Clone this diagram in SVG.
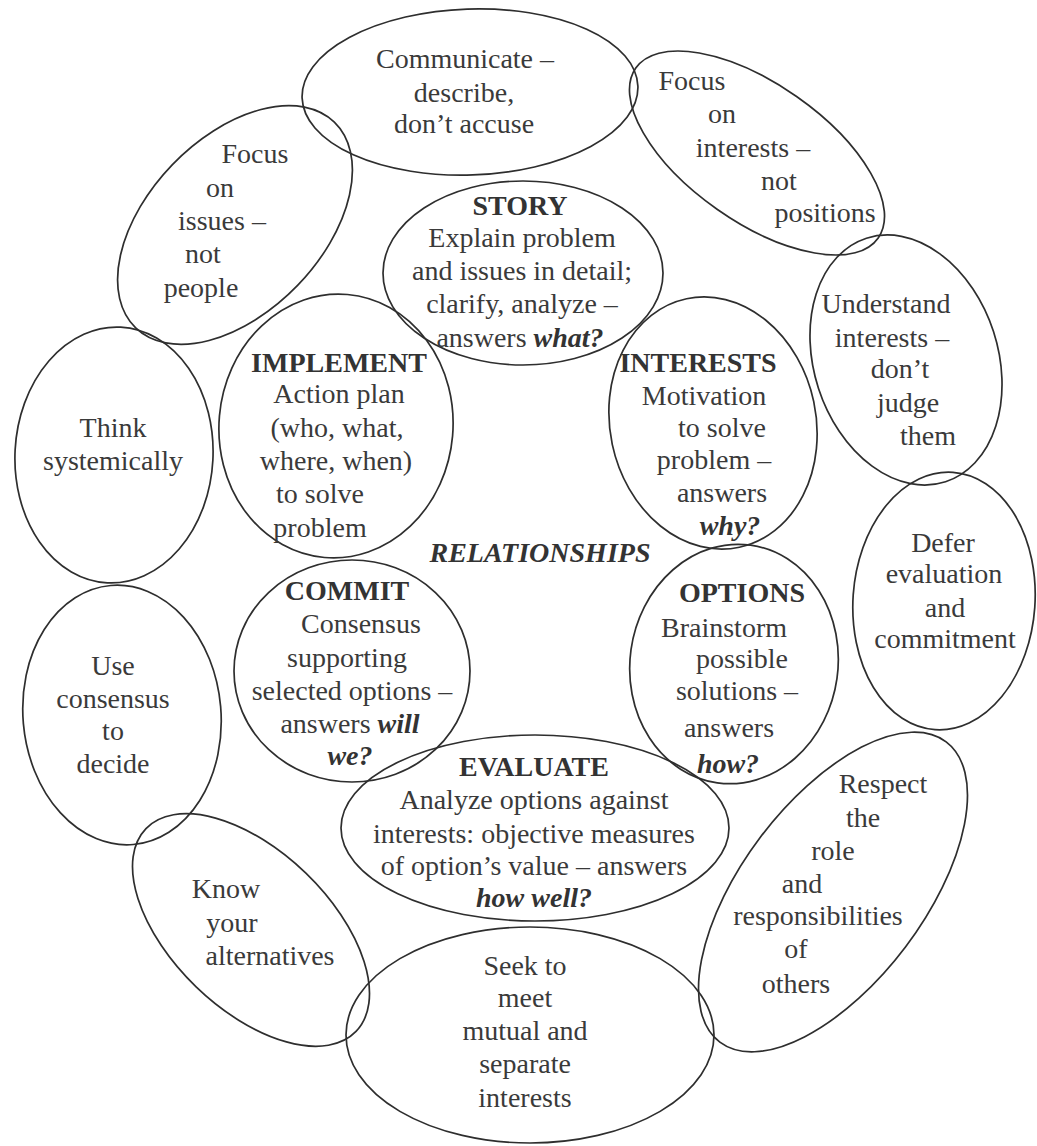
<svg xmlns="http://www.w3.org/2000/svg" width="1037" height="1146" viewBox="0 0 1037 1146">
<style>
  .bg { fill: #ffffff; }
  .sh { fill: none; stroke: #2e2e2e; stroke-width: 1.7; }
  text { font-family: "Liberation Serif", "Times New Roman", serif; font-size: 28px; fill: #3a3a3a; text-anchor: middle; }
  .b { font-weight: bold; fill: #333; }
  .bi { font-weight: bold; font-style: italic; fill: #333; }
</style>
<rect class="bg" x="0" y="0" width="1037" height="1146"/>
<g id="connectors"></g>

<g id="communicate">
  <ellipse class="sh" cx="470" cy="92" rx="168" ry="83" transform="rotate(-2 470 92)"/>
  <text x="465" y="68">Communicate –</text>
  <text x="464" y="102">describe,</text>
  <text x="464" y="133">don’t accuse</text>
</g>

<g id="focus-issues">
  <ellipse class="sh" cx="235" cy="225" rx="143" ry="87" transform="rotate(-46 235 225)"/>
  <text x="255" y="163">Focus</text>
  <text x="220" y="197">on</text>
  <text x="222" y="230">issues –</text>
  <text x="203" y="263">not</text>
  <text x="201" y="297">people</text>
</g>

<g id="focus-interests">
  <ellipse class="sh" cx="757" cy="153" rx="148" ry="69" transform="rotate(35 757 153)"/>
  <text x="692" y="90">Focus</text>
  <text x="722" y="123">on</text>
  <text x="753" y="157">interests –</text>
  <text x="779" y="190">not</text>
  <text x="825" y="222">positions</text>
</g>

<g id="story">
  <ellipse class="sh" cx="523" cy="273" rx="140" ry="92"/>
  <text class="b" x="520" y="215">STORY</text>
  <text x="522" y="247">Explain problem</text>
  <text x="522" y="280">and issues in detail;</text>
  <text x="522" y="313">clarify, analyze –</text>
  <text x="520" y="347">answers <tspan class="bi">what?</tspan></text>
</g>

<g id="understand">
  <ellipse class="sh" cx="906" cy="360" rx="92" ry="128" transform="rotate(-18 906 360)"/>
  <text x="886" y="313">Understand</text>
  <text x="892" y="347">interests –</text>
  <text x="900" y="378">don’t</text>
  <text x="908" y="412">judge</text>
  <text x="928" y="445">them</text>
</g>

<g id="implement">
  <ellipse class="sh" cx="336" cy="426" rx="117" ry="132" transform="rotate(5 336 426)"/>
  <text class="b" x="339" y="372">IMPLEMENT</text>
  <text x="339" y="403">Action plan</text>
  <text x="337" y="437">(who, what,</text>
  <text x="336" y="470">where, when)</text>
  <text x="320" y="503">to solve</text>
  <text x="320" y="537">problem</text>
</g>

<g id="interests">
  <ellipse class="sh" cx="713" cy="423" rx="103" ry="127" transform="rotate(-12 713 423)"/>
  <text class="b" x="698" y="372">INTERESTS</text>
  <text x="704" y="405">Motivation</text>
  <text x="722" y="437">to solve</text>
  <text x="714" y="469">problem –</text>
  <text x="722" y="502">answers</text>
  <text class="bi" x="730" y="535">why?</text>
</g>

<g id="think">
  <ellipse class="sh" cx="114" cy="455" rx="99" ry="128" transform="rotate(3 114 455)"/>
  <text x="113" y="437">Think</text>
  <text x="113" y="470">systemically</text>
</g>

<g id="relationships">
  <text class="bi" x="540" y="562">RELATIONSHIPS</text>
</g>

<g id="commit">
  <ellipse class="sh" cx="352" cy="671" rx="118" ry="111"/>
  <text class="b" x="347" y="600">COMMIT</text>
  <text x="361" y="633">Consensus</text>
  <text x="347" y="667">supporting</text>
  <text x="352" y="700">selected options –</text>
  <text x="350" y="733">answers <tspan class="bi">will</tspan></text>
  <text class="bi" x="350" y="765">we?</text>
</g>

<g id="options">
  <ellipse class="sh" cx="734" cy="664" rx="104" ry="120" transform="rotate(8 734 664)"/>
  <text class="b" x="742" y="602">OPTIONS</text>
  <text x="724" y="637">Brainstorm</text>
  <text x="742" y="668">possible</text>
  <text x="737" y="700">solutions –</text>
  <text x="729" y="737">answers</text>
  <text class="bi" x="728" y="773">how?</text>
</g>

<g id="defer">
  <ellipse class="sh" cx="944" cy="601" rx="91" ry="129" transform="rotate(4 944 601)"/>
  <text x="943" y="552">Defer</text>
  <text x="944" y="583">evaluation</text>
  <text x="945" y="617">and</text>
  <text x="945" y="648">commitment</text>
</g>

<g id="use-consensus">
  <ellipse class="sh" cx="122" cy="715" rx="99" ry="130" transform="rotate(-5 122 715)"/>
  <text x="113" y="675">Use</text>
  <text x="113" y="708">consensus</text>
  <text x="113" y="740">to</text>
  <text x="113" y="773">decide</text>
</g>

<g id="evaluate">
  <ellipse class="sh" cx="535" cy="828" rx="194" ry="93"/>
  <text class="b" x="534" y="776">EVALUATE</text>
  <text x="534" y="809">Analyze options against</text>
  <text x="534" y="843">interests: objective measures</text>
  <text x="534" y="875">of option’s value – answers</text>
  <text class="bi" x="534" y="907">how well?</text>
</g>

<g id="respect">
  <ellipse class="sh" cx="833" cy="892" rx="188" ry="91" transform="rotate(-53 833 892)"/>
  <text x="883" y="793">Respect</text>
  <text x="863" y="827">the</text>
  <text x="833" y="860">role</text>
  <text x="802" y="893">and</text>
  <text x="818" y="925">responsibilities</text>
  <text x="796" y="958">of</text>
  <text x="796" y="993">others</text>
</g>

<g id="know">
  <ellipse class="sh" cx="251" cy="930" rx="146" ry="79" transform="rotate(44 251 930)"/>
  <text x="226" y="898">Know</text>
  <text x="232" y="932">your</text>
  <text x="270" y="965">alternatives</text>
</g>

<g id="seek">
  <ellipse class="sh" cx="530" cy="1035" rx="184" ry="108"/>
  <text x="525" y="975">Seek to</text>
  <text x="525" y="1007">meet</text>
  <text x="525" y="1040">mutual and</text>
  <text x="525" y="1073">separate</text>
  <text x="525" y="1107">interests</text>
</g>
</svg>
